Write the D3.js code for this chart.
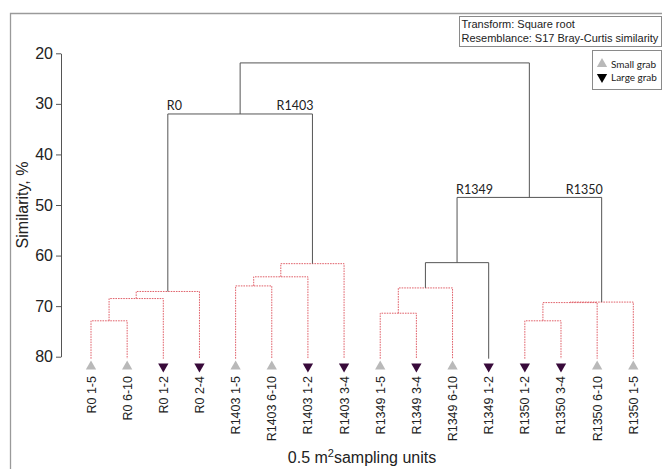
<!DOCTYPE html>
<html>
<head>
<meta charset="utf-8">
<script src="https://cdn.jsdelivr.net/npm/d3@7"></script>
<style>
  html, body { margin: 0; padding: 0; background: #fff; }
  svg { display: block; }
</style>
</head>
<body>
<svg id="chart" width="662" height="469"></svg>
<script>
// Sampling units in dendrogram order
const leafLabels = ["R0 1-5", "R0 6-10", "R0 1-2", "R0 2-4",
  "R1403 1-5", "R1403 6-10", "R1403 1-2", "R1403 3-4",
  "R1349 1-5", "R1349 3-4", "R1349 6-10", "R1349 1-2",
  "R1350 1-2", "R1350 3-4", "R1350 6-10", "R1350 1-5"];
const grabType = ["Small", "Small", "Large", "Large",
  "Small", "Small", "Large", "Large",
  "Small", "Large", "Small", "Large",
  "Large", "Large", "Small", "Small"];

// Agglomeration steps: node ids 0-15 are leaves, each merge creates node 16, 17, ...
const mergeLeft  = [0, 16, 17, 4, 19, 20, 18, 8, 23, 24, 12, 26, 27, 25, 22];
const mergeRight = [1, 2, 3, 5, 6, 7, 21, 9, 10, 11, 13, 14, 15, 28, 29];
const mergeSimilarity = [72.9, 68.5, 67.1, 66.0, 64.2, 61.6, 32.0, 71.4, 66.4, 61.4, 72.9, 69.3, 69.2, 48.5, 21.9];
// SIMPROF: true = significant structure (solid), false = no significant difference (dotted)
const mergeSignificant = [false, false, false, false, false, false, true, false, false, true, false, false, false, true, true];
// Group names written over the two branches of a merge
const groupLabels = [
  { merge: 6, left: "R0", right: "R1403" },
  { merge: 13, left: "R1349", right: "R1350" }
];

const yTicks = [20, 30, 40, 50, 60, 70, 80];
const legendItems = ["Small grab", "Large grab"];
const infoLines = ["Transform: Square root", "Resemblance: S17 Bray-Curtis similarity"];

const svg = d3.select("#chart");
const solid = "#555";
const dotted = "#e0616a";
const smallColor = "#b9b9b9";
const largeColor = "#380a3a";

// Outer frame
svg.append("path")
  .attr("d", "M10.5,469 L10.5,13.5 L662,13.5")
  .attr("fill", "none").attr("stroke", "#9a9a9a").attr("stroke-width", 1.3);

const x = d3.scalePoint().domain(leafLabels).range([91, 633.3]);
const y = d3.scaleLinear().domain([20, 80]).range([53.3, 356.7]);
const leafBase = y(80) + 2;

// Node positions
const nodeX = leafLabels.map(l => x(l));
const nodeY = leafLabels.map(() => leafBase);
mergeLeft.forEach((l, i) => {
  const r = mergeRight[i];
  nodeX.push((nodeX[l] + nodeX[r]) / 2);
  nodeY.push(y(mergeSimilarity[i]));
});

// Y axis
const yAxis = svg.append("g")
  .attr("transform", "translate(61,0)")
  .call(d3.axisLeft(y).tickValues(yTicks).tickSize(5).tickSizeOuter(0).tickPadding(3));
yAxis.select(".domain").attr("stroke", solid);
yAxis.selectAll(".tick line").attr("stroke", solid);
yAxis.selectAll(".tick text")
  .attr("font-family", "Liberation Sans, Arial, sans-serif")
  .attr("font-size", 16).attr("fill", "#222");

svg.append("text")
  .attr("transform", "translate(28,205) rotate(-90)")
  .attr("text-anchor", "middle")
  .attr("font-family", "Liberation Sans, Arial, sans-serif")
  .attr("font-size", 16).attr("fill", "#222")
  .text("Similarity, %");

// Dendrogram links
const links = svg.append("g").attr("fill", "none").attr("stroke-width", 1);
mergeLeft.forEach((l, i) => {
  const r = mergeRight[i];
  const h = y(mergeSimilarity[i]);
  const sig = mergeSignificant[i];
  links.append("path")
    .attr("d", `M${nodeX[l]},${nodeY[l]} V${h} H${nodeX[r]} V${nodeY[r]}`)
    .attr("stroke", sig ? solid : dotted)
    .attr("stroke-dasharray", sig ? null : "1.6,1");
});

// Group names
const gl = svg.append("g")
  .attr("font-family", "Lato, 'Open Sans', sans-serif")
  .attr("font-size", 12.5).attr("fill", "#222");
groupLabels.forEach(g => {
  const l = mergeLeft[g.merge], r = mergeRight[g.merge];
  const h = y(mergeSimilarity[g.merge]) - 3.5;
  gl.append("text").attr("x", nodeX[l] - 1).attr("y", h).text(g.left);
  gl.append("text").attr("x", nodeX[r] + 1).attr("y", h).attr("text-anchor", "end").text(g.right);
});

// Leaf symbols
const tri = d3.symbol().type(d3.symbolTriangle).size(46);
svg.append("g").selectAll("path")
  .data(leafLabels)
  .join("path")
  .attr("d", tri)
  .attr("transform", (d, i) => `translate(${x(d)},366.5)` + (grabType[i] === "Large" ? " rotate(180)" : ""))
  .attr("fill", (d, i) => grabType[i] === "Large" ? largeColor : smallColor);

// Leaf labels
svg.append("g").selectAll("text")
  .data(leafLabels)
  .join("text")
  .attr("transform", d => `translate(${x(d)},376) rotate(-90)`)
  .attr("dy", "0.36em")
  .attr("text-anchor", "end")
  .attr("font-family", "Liberation Sans, Arial, sans-serif")
  .attr("font-size", 12.5).attr("fill", "#222")
  .text(d => d);

// X axis title
const xt = svg.append("text")
  .attr("x", 362).attr("y", 463)
  .attr("text-anchor", "middle")
  .attr("font-family", "Liberation Sans, Arial, sans-serif")
  .attr("font-size", 16).attr("fill", "#222");
xt.append("tspan").text("0.5 m");
xt.append("tspan").attr("font-size", 11).attr("dy", -6).text("2");
xt.append("tspan").attr("dy", 6).text("sampling units");

// Transform / resemblance box
svg.append("rect")
  .attr("x", 459.5).attr("y", 16.5).attr("width", 202).attr("height", 30)
  .attr("fill", "#fff").attr("stroke", "#8a8a8a");
svg.append("g")
  .attr("font-family", "Liberation Sans, Arial, sans-serif")
  .attr("font-size", 11).attr("fill", "#222")
  .selectAll("text").data(infoLines).join("text")
  .attr("x", 461.5).attr("y", (d, i) => 27.5 + i * 14)
  .text(d => d);

// Symbol legend
svg.append("rect")
  .attr("x", 592.5).attr("y", 50.5).attr("width", 69).attr("height", 39)
  .attr("fill", "#fff").attr("stroke", "#8a8a8a");
const lg = svg.append("g").selectAll("g").data(legendItems).join("g")
  .attr("transform", (d, i) => `translate(602,${64 + i * 13})`);
lg.append("path")
  .attr("d", tri)
  .attr("transform", (d, i) => i === 1 ? "rotate(180)" : null)
  .attr("fill", (d, i) => i === 1 ? "#000" : smallColor);
lg.append("text")
  .attr("x", 9).attr("y", 3.5)
  .attr("font-family", "Lato, 'Open Sans', sans-serif")
  .attr("font-size", 10).attr("fill", "#222")
  .text(d => d);
</script>
</body>
</html>
